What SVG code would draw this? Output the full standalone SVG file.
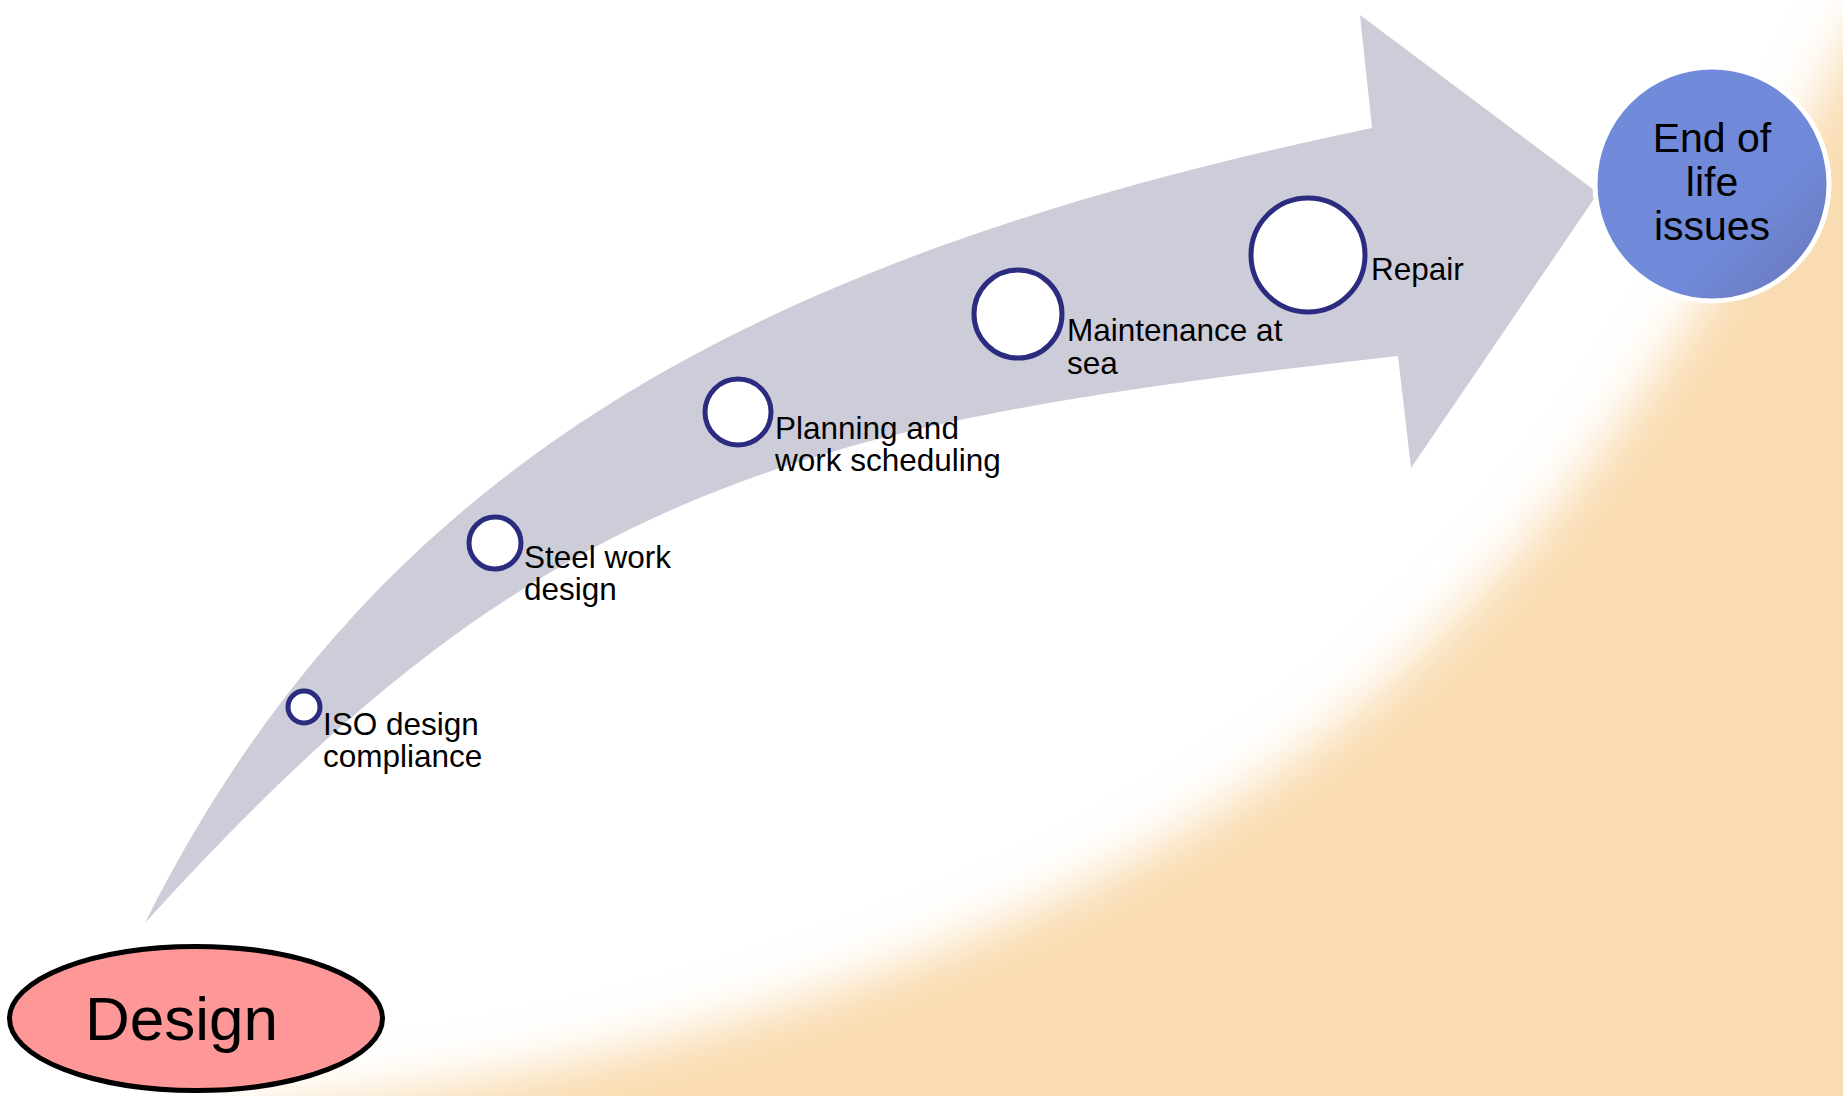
<svg xmlns="http://www.w3.org/2000/svg" width="1843" height="1096" viewBox="0 0 1843 1096">
<style>
.lbl{font-family:"Liberation Sans",Arial,sans-serif;font-size:31.5px;fill:#000}
.step{fill:#fff;stroke:#2b2b80;stroke-width:5}
.big{font-family:"Liberation Sans",Arial,sans-serif;fill:#000}
</style>
<defs>
<filter id="soft" filterUnits="userSpaceOnUse" x="-200" y="-300" width="2400" height="1700">
<feGaussianBlur stdDeviation="26"/>
</filter>
<linearGradient id="endg" x1="0" y1="0" x2="1" y2="1">
<stop offset="0" stop-color="#718bdb"/>
<stop offset="0.65" stop-color="#7089d8"/>
<stop offset="1" stop-color="#6a76b6"/>
</linearGradient>
</defs>
<rect width="1843" height="1096" fill="#fff"/>
<path d="M 250 1110 C 650 1080, 1050 940, 1300 755 S 1720 300, 1860 20 L 2000 -100 L 2000 1250 L 200 1250 Z" fill="#f9dcb1" filter="url(#soft)"/>
<g id="connectors">
<path id="arrow" d="M 145 923 C 377 458, 765 255, 1372 128 L 1360 15 L 1598 193 L 1411 468 L 1398 356 C 802 423, 545 480, 145 923 Z" fill="#cdcdda"/>
</g>
<g id="node-design">
<ellipse cx="196" cy="1018.5" rx="186.5" ry="72" fill="#fe9898" stroke="#000" stroke-width="5"/>
<text class="big" x="85" y="1040" font-size="62">Design</text>
</g>
<g id="node-iso">
<circle class="step" cx="304" cy="707" r="16"/>
<text class="lbl" x="323" y="735">ISO design</text>
<text class="lbl" x="323" y="767">compliance</text>
</g>
<g id="node-steel">
<circle class="step" cx="495" cy="543" r="26"/>
<text class="lbl" x="524" y="568">Steel work</text>
<text class="lbl" x="524" y="600">design</text>
</g>
<g id="node-planning">
<circle class="step" cx="738" cy="412" r="33"/>
<text class="lbl" x="775" y="439">Planning and</text>
<text class="lbl" x="775" y="471">work scheduling</text>
</g>
<g id="node-maintenance">
<circle class="step" cx="1018" cy="314" r="44"/>
<text class="lbl" x="1067" y="341">Maintenance at</text>
<text class="lbl" x="1067" y="374">sea</text>
</g>
<g id="node-repair">
<circle class="step" cx="1308" cy="255" r="57"/>
<text class="lbl" x="1371" y="280">Repair</text>
</g>
<g id="node-end">
<circle cx="1712" cy="184" r="117" fill="url(#endg)" stroke="#fff" stroke-width="5"/>
<text class="big" font-size="41" text-anchor="middle" x="1712" y="152">End of</text>
<text class="big" font-size="41" text-anchor="middle" x="1712" y="196">life</text>
<text class="big" font-size="41" text-anchor="middle" x="1712" y="240">issues</text>
</g>
</svg>
